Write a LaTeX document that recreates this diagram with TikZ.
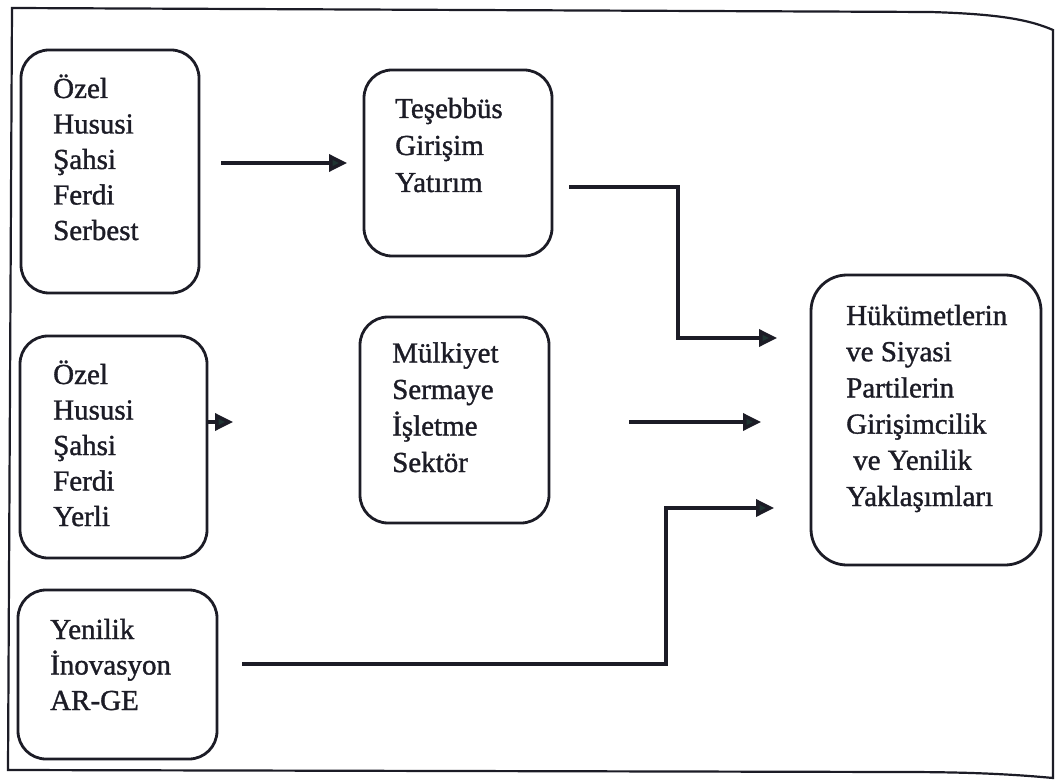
\documentclass[tikz,border=0pt]{standalone}
\usepackage{fontspec}
\setmainfont[FakeBold=1.2]{Liberation Serif}
\usetikzlibrary{arrows.meta}
\definecolor{ink}{RGB}{28,28,38}
\definecolor{tipc}{RGB}{30,52,50}
\begin{document}
\begin{tikzpicture}[x=1pt,y=-1pt,
  box/.style={draw=ink, line width=2.8pt, rounded corners=28pt, inner sep=0pt},
  txt/.style={font=\fontsize{29}{35.5}\selectfont, align=left, anchor=base west, inner sep=0pt, text=ink},
  arr/.style={draw=ink, line width=3.5pt, -{Triangle[length=18pt,width=17pt,fill=tipc]}},
  frame/.style={draw=ink, line width=2.2pt}]
\useasboundingbox (0,0) rectangle (1062,783);
\fill[white] (0,0) rectangle (1062,783);
% outer frame (scan-warped)
\draw[frame] (12,8) -- (930,12) .. controls (1000,14) and (1030,20) .. (1053,30)
  -- (1053,778) .. controls (1000,773) and (950,772) .. (900,772) -- (8,770) -- cycle;
% boxes
\node[box, minimum width=178pt, minimum height=243pt] (A) at (110,171.5) {};
\node[box, minimum width=188pt, minimum height=186pt] (B) at (458,163) {};
\node[box, minimum width=187pt, minimum height=222pt] (C) at (113.5,447) {};
\node[box, minimum width=189pt, minimum height=206pt] (D) at (454.5,420) {};
\node[box, minimum width=199pt, minimum height=169pt] (E) at (117.5,674.5) {};
\node[box, minimum width=230pt, minimum height=290pt, rounded corners=36pt] (F) at (926,420) {};
% texts (anchored at the baseline of the last line)
\node[txt] (tA) at (53,240) {Özel\\Hususi\\Şahsi\\Ferdi\\Serbest};
\node[txt, font=\fontsize{29}{37}\selectfont] (tB) at (395,192) {Teşebbüs\\Girişim\\Yatırım};
\node[txt] (tC) at (53,526) {Özel\\Hususi\\Şahsi\\Ferdi\\Yerli};
\node[txt, font=\fontsize{29}{36.5}\selectfont] (tD) at (392,472) {Mülkiyet\\Sermaye\\İşletme\\Sektör};
\node[txt] (tE) at (50,710) {Yenilik\\İnovasyon\\AR-GE};
\node[txt, font=\fontsize{29}{36.2}\selectfont] (tF) at (846,506) {Hükümetlerin\\ve Siyasi\\Partilerin\\Girişimcilik\\\hspace*{7pt}ve Yenilik\\Yaklaşımları};
% connector end points
\coordinate (a1) at (221,163);
\coordinate (a2) at (347,163);
\coordinate (b1) at (569,187);
\coordinate (b2) at (777,338);
\coordinate (c2) at (233,422);
\coordinate (d1) at (629,422);
\coordinate (d2) at (761,422);
\coordinate (e1) at (242,664);
\coordinate (e2) at (774,508);
% connectors
\draw[arr] (a1) -- (a2);
\draw[arr] (b1) -- (678,187) -- (678,338) -- (b2);
\draw[arr, shorten <=-1pt] (C.east |- c2) -- (c2);
\draw[arr] (d1) -- (d2);
\draw[arr] (e1) -- (666,664) -- (666,508) -- (e2);
\end{tikzpicture}
\end{document}
